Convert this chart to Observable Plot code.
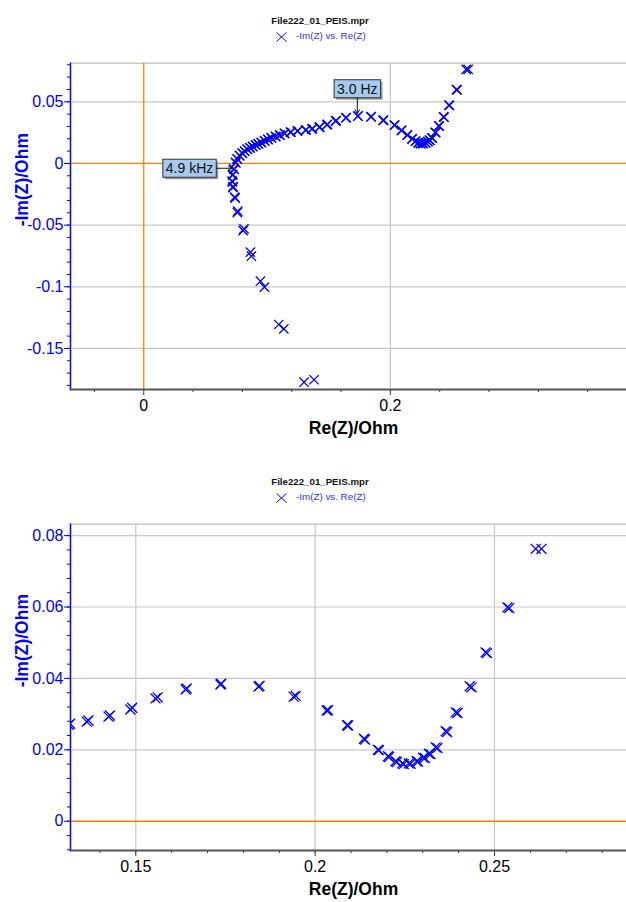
<!DOCTYPE html>
<html>
<head>
<meta charset="utf-8">
<script src="https://cdn.jsdelivr.net/npm/d3@7"></script>
<script src="https://cdn.jsdelivr.net/npm/@observablehq/plot@0.6"></script>
<style>
  body { margin: 0; background: #fff; }
  #root { position: relative; width: 626px; height: 902px; overflow: hidden; font-family: "Liberation Sans", Arial, sans-serif; background: #fff; }
  .title { position: absolute; left: 7px; width: 626px; text-align: center; font-weight: bold; font-size: 9.7px; line-height: 12px; color: #111; }
  .legend { position: absolute; left: 276px; width: 200px; height: 12px; }
  .legend span { position: absolute; left: 20px; top: -0.5px; font-size: 9.8px; line-height: 12px; color: #3030ff; white-space: nowrap; }
  svg.panel { position: absolute; left: 0; }
</style>
</head>
<body>
<div id="root"></div>
<script>
// ---- data: Nyquist points, two measured cycles (Re(Z), -Im(Z)) in Ohm ----
const reA = [0.1300, 0.1095, 0.0946, 0.0865, 0.0813, 0.0762, 0.0738, 0.0725, 0.0717, 0.0722,
             0.0730, 0.0744, 0.0757, 0.0776, 0.0798, 0.0817, 0.0838, 0.0860, 0.0882, 0.0906,
             0.0928, 0.0952, 0.0979, 0.1006, 0.1033, 0.1068, 0.1103, 0.1141, 0.1190, 0.1245,
             0.1313, 0.1363, 0.1424, 0.1485, 0.1555, 0.1639, 0.1736, 0.1842, 0.1940, 0.2032,
             0.2089, 0.2136, 0.2175, 0.2203, 0.2224, 0.2243, 0.2261, 0.2283, 0.2301, 0.2317,
             0.2336, 0.2364, 0.2392, 0.2431, 0.2475, 0.2536, 0.2615];
const imA = [-0.1774, -0.1306, -0.0955, -0.0719, -0.0530, -0.0387, -0.0273, -0.0187, -0.0143, -0.0089,
             -0.0043, 0.0008, 0.0038, 0.0065, 0.0084, 0.0100, 0.0116, 0.0127, 0.0138, 0.0151,
             0.0159, 0.0170, 0.0184, 0.0195, 0.0208, 0.0219, 0.0230, 0.0244, 0.0254, 0.0263,
             0.0270, 0.0279, 0.0293, 0.0313, 0.0344, 0.0369, 0.0383, 0.0377, 0.0349, 0.0310,
             0.0269, 0.0231, 0.0200, 0.0182, 0.0168, 0.0162, 0.0162, 0.0168, 0.0178, 0.0189,
             0.0207, 0.0252, 0.0305, 0.0378, 0.0473, 0.0599, 0.0763];
const reB = [0.1381, 0.1136, 0.0979, 0.0873, 0.0806, 0.0759, 0.0741, 0.0723, 0.0719, 0.0720,
             0.0733, 0.0747, 0.0760, 0.0779, 0.0801, 0.0820, 0.0841, 0.0863, 0.0885, 0.0909,
             0.0931, 0.0955, 0.0982, 0.1009, 0.1036, 0.1071, 0.1106, 0.1144, 0.1194, 0.1249,
             0.1317, 0.1368, 0.1428, 0.1490, 0.1561, 0.1642, 0.1738, 0.1845, 0.1946, 0.2036,
             0.2092, 0.2139, 0.2178, 0.2206, 0.2228, 0.2247, 0.2266, 0.2287, 0.2306, 0.2322,
             0.2341, 0.2368, 0.2397, 0.2436, 0.2479, 0.2541, 0.2631];
const imB = [-0.1754, -0.1341, -0.1003, -0.0752, -0.0545, -0.0398, -0.0281, -0.0196, -0.0150, -0.0095,
             -0.0049, 0.0004, 0.0034, 0.0062, 0.0082, 0.0099, 0.0115, 0.0126, 0.0137, 0.0150,
             0.0158, 0.0169, 0.0183, 0.0194, 0.0207, 0.0218, 0.0229, 0.0243, 0.0254, 0.0264,
             0.0273, 0.0282, 0.0296, 0.0318, 0.0347, 0.0372, 0.0385, 0.0379, 0.0351, 0.0311,
             0.0268, 0.0229, 0.0199, 0.0180, 0.0166, 0.0160, 0.0161, 0.0167, 0.0177, 0.0188,
             0.0205, 0.0250, 0.0303, 0.0375, 0.0471, 0.0597, 0.0763];

// frequency annotations (index into cycle A)
const annLabels = ["4.9 kHz", "3.0 Hz"];
const annIndex = [10, 36];
const annSide = ["left", "top"];

// text
const fileName = "File222_01_PEIS.mpr";
const seriesName = "-Im(Z) vs. Re(Z)";
const xLabel = "Re(Z)/Ohm";
const yLabel = "-Im(Z)/Ohm";

// ticks, panel 1 (full view)
const xMajor1 = [0, 0.2];
const xMinor1 = [-0.04, 0.04, 0.08, 0.12, 0.16, 0.24, 0.28, 0.32, 0.36];
const yMajor1 = [-0.15, -0.1, -0.05, 0, 0.05];
const yMinor1 = d3.range(-18, 9).map(d => +(d * 0.01).toFixed(3));
// ticks, panel 2 (zoomed view)
const xMajor2 = [0.15, 0.2, 0.25];
const xMinor2 = d3.range(14, 29).map(d => +(d * 0.01).toFixed(3));
const yMajor2 = [0, 0.02, 0.04, 0.06, 0.08];
const yMinor2 = d3.range(-2, 21).map(d => +(d * 0.004).toFixed(4));

const points = reB.map((re, i) => ({re, im: imB[i], cycle: 2}))
  .concat(reA.map((re, i) => ({re, im: imA[i], cycle: 1})));

const FONT = "Liberation Sans, Arial, sans-serif";
const root = document.getElementById("root");

function header(titleY, legendY) {
  const t = document.createElement("div");
  t.className = "title";
  t.style.top = (titleY - 6) + "px";
  t.textContent = fileName;
  root.appendChild(t);
  const lg = document.createElement("div");
  lg.className = "legend";
  lg.style.top = (legendY - 6) + "px";
  lg.innerHTML = '<svg width="12" height="12" style="position:absolute;left:0;top:1px"><path d="M0.5,0.5L10.5,9.5M0.5,9.5L10.5,0.5" stroke="#0000ff" stroke-width="1" fill="none"/></svg>';
  const sp = document.createElement("span");
  sp.textContent = seriesName;
  lg.appendChild(sp);
  root.appendChild(lg);
}

function panel(o) {
  header(o.titleY, o.legendY);
  const grid = {stroke: "#c8c8c8", strokeOpacity: 1, strokeWidth: 1.2};
  const plot = Plot.plot({
    width: 626,
    height: o.height,
    marginLeft: 70,
    marginRight: 0,
    marginTop: o.mt,
    marginBottom: o.mb,
    style: {fontFamily: FONT, background: "transparent", overflow: "visible"},
    x: {domain: o.xDomain},
    y: {domain: o.yDomain},
    marks: [
      Plot.gridX(o.gridX, grid),
      Plot.gridY(o.gridY, grid),
      Plot.frame({anchor: "top", stroke: "#c8c8c8", strokeWidth: 1.5}),
      o.zeroX ? Plot.ruleX([0], {stroke: "#ff8000", strokeWidth: 1.3}) : null,
      Plot.ruleY([0], {stroke: "#ff8000", strokeWidth: 1.3}),
      Plot.dot(points, {x: "re", y: "im", symbol: "times", r: o.r, stroke: "#0000ff", strokeWidth: 1.3, clip: true}),
      Plot.axisX(o.xMinor, {anchor: "bottom", tickSize: 3, stroke: "#333", fill: "none", label: null}),
      Plot.axisX(o.xMajor, {anchor: "bottom", tickSize: 6, tickPadding: 4.5, stroke: "#333", fill: "#000", fontSize: 16, tickFormat: d => String(d), label: null}),
      Plot.axisY(o.yMinor, {anchor: "left", tickSize: 3, stroke: "#0000ff", fill: "none", label: null}),
      Plot.axisY(o.yMajor, {anchor: "left", tickSize: 6, tickPadding: 1, stroke: "#0000ff", fill: "#0000ff", fontSize: 16, tickFormat: d => String(d), label: null}),
      Plot.frame({anchor: "left", stroke: "#0000ff", strokeWidth: 1.5}),
      Plot.frame({anchor: "bottom", stroke: "#555", strokeWidth: 2}),
      Plot.text([xLabel], {text: d => d, frameAnchor: "bottom", dx: 5, dy: 44, fontSize: 17.5, fontWeight: "bold", fill: "#000"}),
      Plot.text([yLabel], {text: d => d, frameAnchor: "left", dx: -48, rotate: -90, fontSize: 17.5, fontWeight: "bold", fill: "#0000ff"})
    ]
  });
  plot.classList.add("panel");
  plot.style.top = o.top + "px";
  root.appendChild(plot);
  return plot;
}

const p1 = panel({
  top: 50, height: 400, mt: 12.7, mb: 61,
  titleY: 20.7, legendY: 36.5,
  xDomain: [-0.0594, 0.3915], yDomain: [-0.1833, 0.0813],
  xMajor: xMajor1, xMinor: xMinor1, yMajor: yMajor1, yMinor: yMinor1,
  gridX: [0.2], gridY: [-0.15, -0.1, -0.05, 0.05], zeroX: true, r: 4.3
});

const p2 = panel({
  top: 510, height: 392, mt: 13.7, mb: 52,
  titleY: 482, legendY: 497.8,
  xDomain: [0.1318, 0.2868], yDomain: [-0.0082, 0.0832],
  xMajor: xMajor2, xMinor: xMinor2, yMajor: yMajor2, yMinor: yMinor2,
  gridX: [0.15, 0.2, 0.25], gridY: [0.02, 0.04, 0.06, 0.08], zeroX: false, r: 4.6
});

// frequency callouts on the first panel, positioned through Plot's own scales
(function annotate(plot) {
  const sx = plot.scale("x"), sy = plot.scale("y");
  const ctx = document.createElement("canvas").getContext("2d");
  ctx.font = "14px " + FONT;
  const g = d3.select(plot).append("g");
  annIndex.forEach((idx, k) => {
    const px = sx.apply(reA[idx]), py = sy.apply(imA[idx]);
    const bw = ctx.measureText(annLabels[k]).width + 6, bh = 18;
    let bx, by, x1, y1, x2, y2;
    if (annSide[k] === "top") {
      bx = px - bw / 2; by = py - 18 - bh; x1 = px; y1 = py - 18; x2 = px; y2 = py - 2;
    } else {
      bx = px - 17 - bw; by = py - bh / 2; x1 = px - 17; y1 = py; x2 = px - 1; y2 = py;
    }
    g.append("rect").attr("x", bx + 2).attr("y", by + 2).attr("width", bw).attr("height", bh).attr("fill", "#9c9c9c");
    g.append("rect").attr("x", bx).attr("y", by).attr("width", bw).attr("height", bh)
      .attr("fill", "#a6c9f0").attr("stroke", "#333").attr("stroke-width", 1);
    g.append("text").attr("x", bx + bw / 2).attr("y", by + bh / 2 + 5)
      .attr("text-anchor", "middle").attr("font-size", 14).attr("font-family", FONT).attr("fill", "#111")
      .text(annLabels[k]);
    g.append("line").attr("x1", x1).attr("y1", y1).attr("x2", x2).attr("y2", y2)
      .attr("stroke", "#111").attr("stroke-width", 1);
    const ang = Math.atan2(y2 - y1, x2 - x1), L = 5, a = 0.5;
    g.append("path")
      .attr("d", `M${x2 - L * Math.cos(ang - a)},${y2 - L * Math.sin(ang - a)}L${x2},${y2}L${x2 - L * Math.cos(ang + a)},${y2 - L * Math.sin(ang + a)}`)
      .attr("fill", "none").attr("stroke", "#111").attr("stroke-width", 1);
  });
})(p1);
</script>
</body>
</html>
